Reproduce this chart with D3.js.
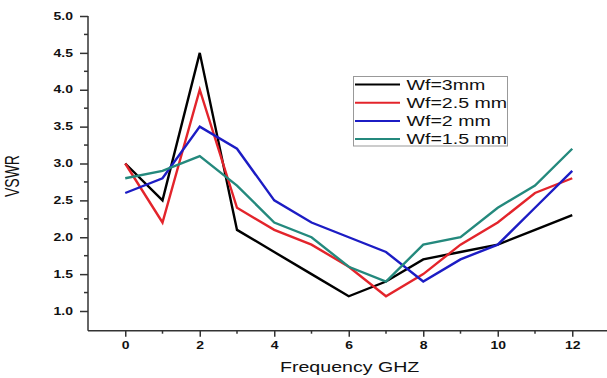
<!DOCTYPE html>
<html>
<head>
<meta charset="utf-8">
<script src="https://cdn.jsdelivr.net/npm/d3@7"></script>
<style>
  html, body { margin: 0; padding: 0; background: #fff; }
  svg { display: block; }
  text { font-family: "Liberation Sans", Arial, sans-serif; fill: #111; }
</style>
</head>
<body>
<svg id="chart" width="607" height="378"></svg>
<script>
// Frequency points (GHz)
const frequency = [0, 1, 2, 3, 4, 5, 6, 7, 8, 9, 10, 11, 12];

// VSWR for each feed width
const vswrWf3 = [3.0, 2.5, 4.5, 2.1, 1.8, 1.5, 1.2, 1.4, 1.7, 1.8, 1.9, 2.1, 2.3];
const vswrWf25 = [3.0, 2.2, 4.0, 2.4, 2.1, 1.9, 1.6, 1.2, 1.5, 1.9, 2.2, 2.6, 2.8];
const vswrWf2 = [2.6, 2.8, 3.5, 3.2, 2.5, 2.2, 2.0, 1.8, 1.4, 1.7, 1.9, 2.4, 2.9];
const vswrWf15 = [2.8, 2.9, 3.1, 2.7, 2.2, 2.0, 1.6, 1.4, 1.9, 2.0, 2.4, 2.7, 3.2];

const seriesNames = ["Wf=3mm", "Wf=2.5 mm", "Wf=2 mm", "Wf=1.5 mm"];
const seriesColors = ["#000000", "#e3242b", "#1c1cc4", "#24897d"];
const seriesValues = [vswrWf3, vswrWf25, vswrWf2, vswrWf15];

const xTickValues = [0, 2, 4, 6, 8, 10, 12];
const xMinorValues = [1, 3, 5, 7, 9, 11];
const yTickValues = [1.0, 1.5, 2.0, 2.5, 3.0, 3.5, 4.0, 4.5, 5.0];
const yMinorValues = [1.25, 1.75, 2.25, 2.75, 3.25, 3.75, 4.25, 4.75];

const xLabel = "Frequency GHZ";
const yLabel = "VSWR";

// Text in this figure is drawn wide; stretch factor applied horizontally
const SX = 1.4;

const svg = d3.select("#chart");

const x = d3.scaleLinear().domain([-1, 13]).range([88, 609.5]);
const y = d3.scaleLinear().domain([1.0, 5.0]).range([311, 16]);
const axisY = 330.7;
const axisX = 88;

// Lines
const line = d3.line()
  .x((d, i) => x(frequency[i]))
  .y(d => y(d));

seriesValues.forEach((vals, k) => {
  svg.append("path")
    .datum(vals)
    .attr("d", line)
    .attr("fill", "none")
    .attr("stroke", seriesColors[k])
    .attr("stroke-width", 2.4)
    .attr("stroke-linejoin", "miter");
});

// Bottom axis
const gx = svg.append("g").attr("transform", `translate(0,${axisY})`);
gx.call(d3.axisBottom(x).tickValues(xTickValues).tickSize(6).tickSizeOuter(0).tickFormat(d3.format("d")));
gx.append("g").selectAll("line").data(xMinorValues).join("line")
  .attr("x1", d => x(d)).attr("x2", d => x(d))
  .attr("y1", 0).attr("y2", 3);
gx.select(".domain").attr("d", `M${axisX},0H607`);

// Left axis
const gy = svg.append("g").attr("transform", `translate(${axisX},0)`);
gy.call(d3.axisLeft(y).tickValues(yTickValues).tickSize(8).tickSizeOuter(0).tickFormat(d3.format(".1f")));
gy.append("g").selectAll("line").data(yMinorValues).join("line")
  .attr("x1", 0).attr("x2", -4)
  .attr("y1", d => y(d)).attr("y2", d => y(d));
gy.select(".domain").attr("d", `M0,${y(5.0)}V${axisY}`);

[gx, gy].forEach(g => {
  g.selectAll("line").attr("stroke", "#333").attr("stroke-width", 1.5);
  g.select(".domain").attr("stroke", "#333").attr("stroke-width", 1.5);
});

gx.selectAll(".tick text")
  .attr("font-size", 10).attr("font-weight", "bold")
  .attr("font-family", "Liberation Sans, Arial, sans-serif")
  .attr("fill", "#111")
  .attr("y", 18).attr("dy", 0)
  .attr("transform", `scale(${SX},1)`);

gy.selectAll(".tick text")
  .attr("font-size", 10).attr("font-weight", "bold")
  .attr("font-family", "Liberation Sans, Arial, sans-serif")
  .attr("fill", "#111")
  .attr("x", -15 / SX)
  .attr("transform", `scale(${SX},1)`);

// Axis titles
svg.append("text")
  .attr("transform", `translate(280,371.5) scale(${SX},1)`)
  .attr("font-size", 14)
  .text(xLabel);

svg.append("text")
  .attr("transform", `translate(18.5,176) rotate(-90) scale(1,${SX})`)
  .attr("text-anchor", "middle")
  .attr("font-size", 14)
  .text(yLabel);

// Legend
const legend = svg.append("g");
legend.append("rect")
  .attr("x", 353.5).attr("y", 76.5)
  .attr("width", 154).attr("height", 69.5)
  .attr("fill", "#fff")
  .attr("stroke", "#999").attr("stroke-width", 1);

seriesNames.forEach((name, k) => {
  const cy = 84.5 + k * 18.2;
  legend.append("line")
    .attr("x1", 355).attr("x2", 400)
    .attr("y1", cy).attr("y2", cy)
    .attr("stroke", seriesColors[k]).attr("stroke-width", 2);
  legend.append("text")
    .attr("transform", `translate(406.5,${cy + 5}) scale(${SX},1)`)
    .attr("font-size", 14)
    .text(name);
});
</script>
</body>
</html>
